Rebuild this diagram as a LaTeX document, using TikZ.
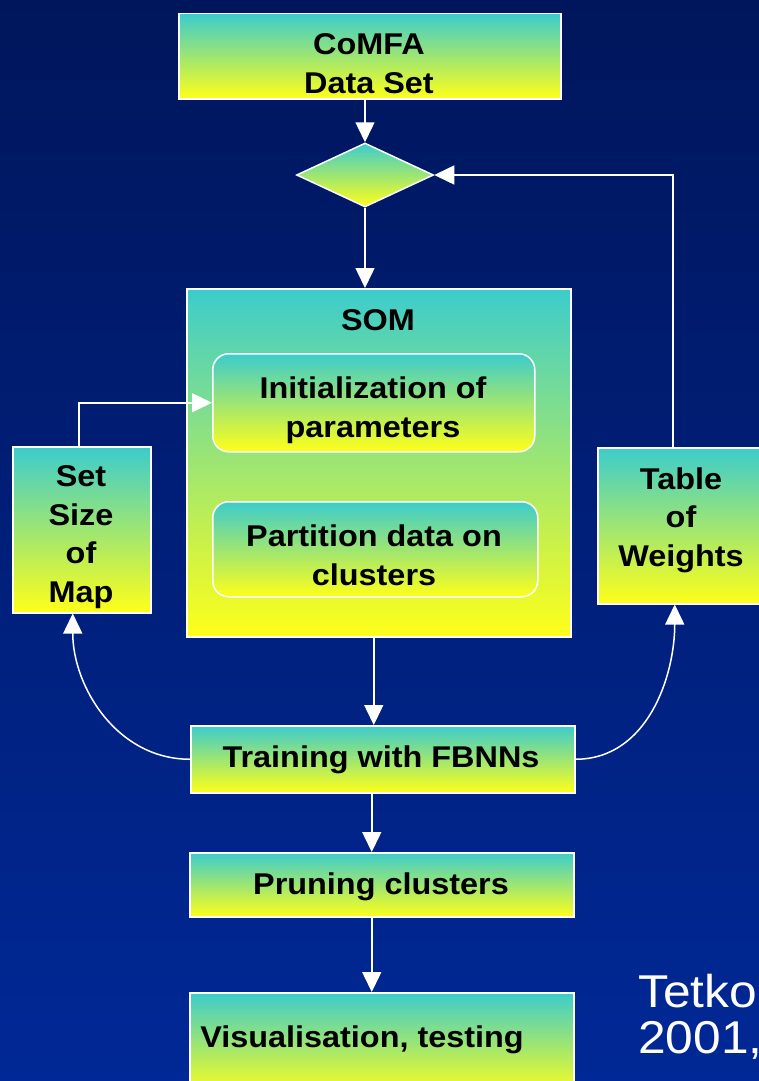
\documentclass[tikz,border=0pt]{standalone}
\usepackage{fontspec}
\setmainfont[FakeStretch=1.08]{Liberation Sans}
\usetikzlibrary{arrows.meta,shapes.geometric}
\definecolor{bgtop}{RGB}{0,22,92}
\definecolor{bgbot}{RGB}{0,40,150}
\definecolor{boxtop}{RGB}{60,204,204}
\definecolor{boxbot}{RGB}{255,255,25}
\begin{document}
\begin{tikzpicture}[x=1pt,y=-1pt,
  box/.style={draw=white, line width=1.5pt, top color=boxtop, bottom color=boxbot, inner sep=0pt, anchor=north west},
  lbl/.style={font=\bfseries\fontsize{30}{38.5}\selectfont, align=center, text=black, inner sep=0pt, anchor=base},
  conn/.style={draw=white, line width=1.5pt, -{Triangle[width=19pt,length=20pt]}},
]
\useasboundingbox (0,0) rectangle (759,1081);
\clip (0,0) rectangle (759,1081);
\shade[top color=bgtop, bottom color=bgbot] (0,0) rectangle (759,1081);

% boxes
\node[box, minimum width=382pt, minimum height=85pt] (comfa) at (178,13) {};
\node[shape=diamond, draw=white, line width=1.5pt, top color=boxtop, bottom color=boxbot, inner sep=0pt, minimum width=137pt, minimum height=64pt] (dia) at (365,175) {};
\node[box, minimum width=384pt, minimum height=348pt] (som) at (186,288) {};
\node[box, rounded corners=16pt, minimum width=322pt, minimum height=98pt] (init) at (212,353) {};
\node[box, rounded corners=16pt, minimum width=325pt, minimum height=95pt] (part) at (212,501) {};
\node[box, minimum width=138pt, minimum height=166pt] (setsize) at (12,446) {};
\node[box, minimum width=168pt, minimum height=156pt] (table) at (597,447) {};
\node[box, minimum width=384pt, minimum height=67pt] (train) at (190,725) {};
\node[box, minimum width=384pt, minimum height=64pt] (prune) at (189,852) {};
\node[box, minimum width=384pt, minimum height=103pt] (visual) at (189,992) {};

% texts (anchor base = baseline of the last line)
\node[lbl] (tcomfa) at (369,93) {CoMFA\\Data Set};
\node[lbl] (tsom) at (378,330) {SOM};
\node[lbl] (tinit) at (373,437) {Initialization of\\parameters};
\node[lbl] (tpart) at (374,585) {Partition data on\\clusters};
\node[lbl] (tset) at (81,602) {Set\\Size\\of\\Map};
\node[lbl] (ttable) at (681,566) {Table\\of\\Weights};
\node[lbl] (ttrain) at (381,767) {Training with FBNNs};
\node[lbl] (tprune) at (381,894) {Pruning clusters};
\node[lbl] (tvis) at (362,1047) {Visualisation, testing};
\node[font=\fontsize{46}{46}\selectfont, text=white, inner sep=0pt, anchor=base west] (tetko) at (638,1007) {Tetko};
\node[font=\fontsize{46}{46}\selectfont, text=white, inner sep=0pt, anchor=base west] (year) at (638,1053) {2001,};

% connectors
\draw[conn] (dia.north |- comfa.south) -- (dia.north);
\draw[conn] (dia.south) -- (dia.south |- som.north);
\draw[conn] ([xshift=-9pt]table.north) |- (dia.east);
\draw[conn] ([xshift=-3pt]setsize.north) |- (init.west);
\draw[conn] ([xshift=-5pt]som.south) -- ([xshift=-5pt]som.south |- train.north);
\draw[conn] (train.west) to[out=180,in=-90] ([xshift=-9pt]setsize.south);
\draw[conn] (train.east) to[out=0,in=-90] ([xshift=-7pt]table.south);
\draw[conn] ([xshift=-11pt]train.south) -- ([xshift=-11pt]train.south |- prune.north);
\draw[conn] ([xshift=-10pt]prune.south) -- ([xshift=-10pt]prune.south |- visual.north);
\end{tikzpicture}
\end{document}
